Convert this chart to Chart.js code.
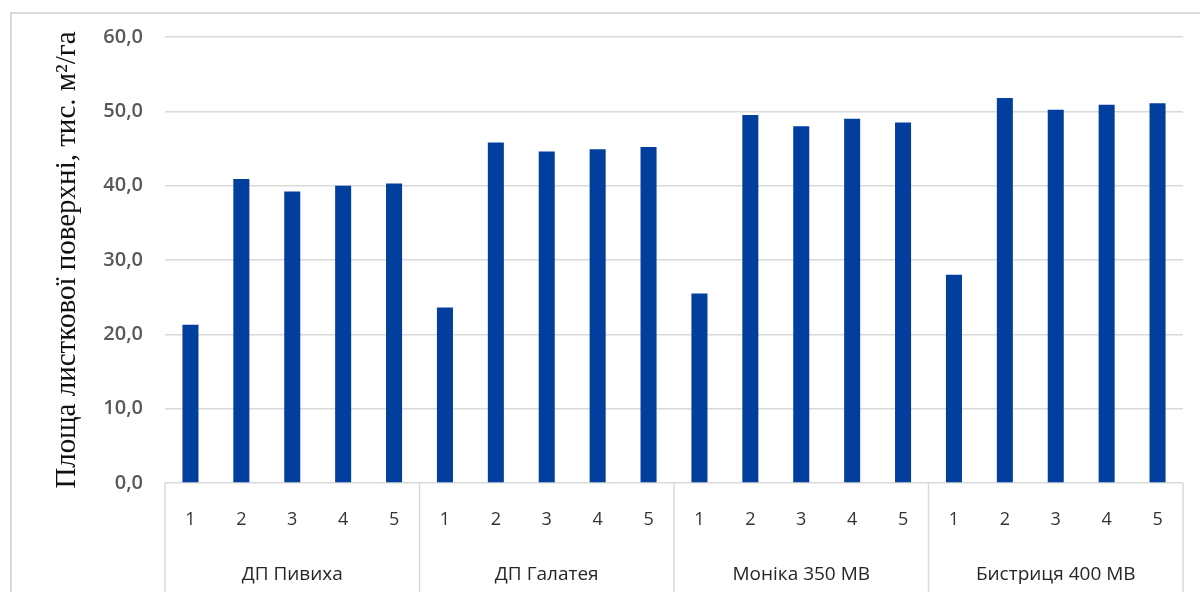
<!DOCTYPE html>
<html>
<head>
<meta charset="utf-8">
<script src="https://cdn.jsdelivr.net/npm/chart.js@4/dist/chart.umd.min.js"></script>
<style>
  body { margin: 0; background: #fff; }
  #frame {
    position: absolute; left: 10px; top: 12px;
    width: 1190px; height: 580px;
    border-left: 2px solid #d9d9d9; border-top: 2px solid #d9d9d9;
  }
</style>
</head>
<body>
<div id="frame"><canvas id="chart" width="1188" height="578"></canvas></div>
<script>
const groups = ["ДП Пивиха", "ДП Галатея", "Моніка 350 МВ", "Бистриця 400 МВ"];
const plots = ["1", "2", "3", "4", "5"];
const pyvykha = [21.3, 40.9, 39.2, 40.0, 40.3];
const halateia = [23.6, 45.8, 44.6, 44.9, 45.2];
const monika = [25.5, 49.5, 48.0, 49.0, 48.5];
const bystrytsia = [28.0, 51.8, 50.2, 50.9, 51.1];
const yTicks = [0, 10, 20, 30, 40, 50, 60];

const labels = groups.flatMap(() => plots);
const values = [...pyvykha, ...halateia, ...monika, ...bystrytsia];

// vertical lines between groups under the plot
const groupLines = {
  id: "groupLines",
  afterDraw(chart) {
    const x = chart.scales.x;
    const ctx = chart.ctx;
    const bottom = chart.chartArea.bottom;
    const xs = [x.left];
    for (let g = 1; g < groups.length; g++) {
      const i = g * plots.length;
      xs.push((x.getPixelForValue(i - 1) + x.getPixelForValue(i)) / 2);
    }
    xs.push(x.right);
    ctx.save();
    ctx.strokeStyle = "#d9d9d9";
    ctx.lineWidth = 1.5;
    xs.forEach(px => {
      ctx.beginPath();
      ctx.moveTo(px, bottom);
      ctx.lineTo(px, chart.height);
      ctx.stroke();
    });
    ctx.restore();
  }
};

new Chart("chart", {
  type: "bar",
  data: {
    labels: labels,
    datasets: [{
      data: values,
      backgroundColor: "#023e9e",
      categoryPercentage: 1,
      barPercentage: 0.315
    }]
  },
  options: {
    responsive: false,
    animation: false,
    devicePixelRatio: 1,
    layout: { padding: { left: 0, top: 23, right: 17, bottom: 0 } },
    plugins: { legend: { display: false }, tooltip: { enabled: false } },
    scales: {
      y: {
        min: 0,
        max: 60,
        afterBuildTicks: axis => { axis.ticks = yTicks.map(v => ({ value: v })); },
        afterFit: axis => { axis.width = 153; axis.paddingTop = 0; },
        border: { display: false },
        grid: { color: "#d9d9d9", lineWidth: 1.5, drawTicks: false },
        ticks: {
          padding: 22,
          color: "#595959",
          font: { family: "Open Sans", size: 20, weight: "600" },
          callback: v => v.toFixed(1).replace(".", ",")
        },
        title: {
          display: true,
          text: "Площа листкової поверхні, тис. м²/га",
          color: "#111",
          font: { family: "Liberation Serif", size: 29 },
          padding: { top: 38, bottom: 0 }
        }
      },
      x: {
        weight: 0,
        afterFit: axis => { axis.height = 71; },
        border: { display: false },
        grid: { display: false },
        ticks: {
          padding: 18,
          color: "#333",
          maxRotation: 0,
          autoSkip: false,
          font: { family: "Open Sans", size: 18 }
        }
      },
      x2: {
        type: "category",
        position: "bottom",
        weight: 1,
        labels: groups,
        offset: true,
        afterFit: axis => { axis.height = 38; },
        border: { display: false },
        grid: { display: false },
        ticks: {
          padding: 1,
          color: "#262626",
          maxRotation: 0,
          font: { family: "Open Sans", size: 19 }
        }
      }
    }
  },
  plugins: [groupLines]
});
</script>
</body>
</html>
